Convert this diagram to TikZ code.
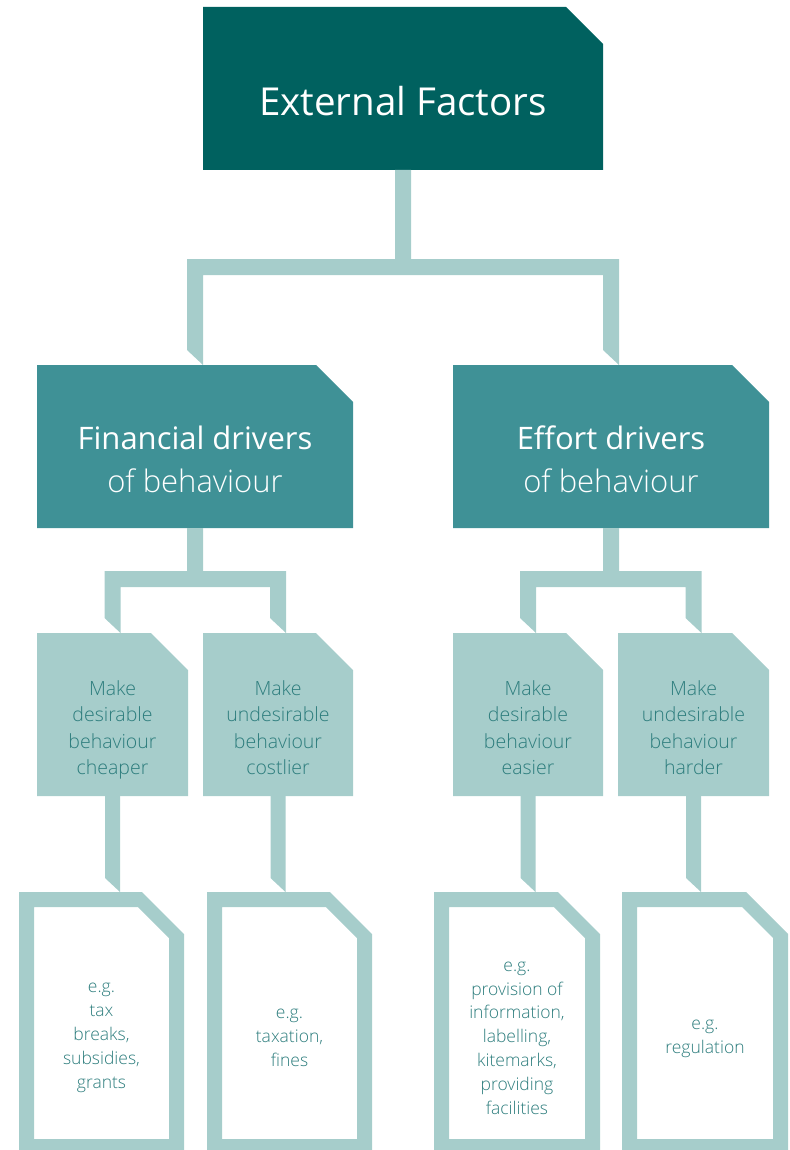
\documentclass[tikz,border=0pt]{standalone}
\usepackage{fontspec}
\setmainfont{Open Sans}
\IfFontExistsTF{Open Sans Light}{\newfontfamily\lightfont{Open Sans Light}}{%
  \IfFontExistsTF{Lato Light}{\newfontfamily\lightfont{Lato Light}}{\newfontfamily\lightfont{Open Sans}}}
\usetikzlibrary{calc}
\definecolor{darkteal}{HTML}{00615F}
\definecolor{midteal}{HTML}{3F9196}
\definecolor{lightteal}{HTML}{A6CDCB}
\definecolor{textteal}{HTML}{2D7D7D}
% chamfered box path from a node's corners: #1 node, #2 chamfer, #3 inset
\newcommand\champath[3]{($(#1.south west)+(#3,-#3)$) -- ($(#1.north west)+(#3,#3)$) -- ($(#1.north east)+(-#2-#3,#3)$) -- ($(#1.north east)+(-#3,#2+#3)$) -- ($(#1.south east)+(-#3,-#3)$) -- cycle}
% fork connector: #1 parent, #2 left child, #3 right child, #4 bar top coordinate
\newcommand\forkpath[4]{($(#1.south)+(-8,0)$) -- ($(#1.south)+(8,0)$) -- ($(#1.south |- #4)+(8,0)$) -- ($(#3.north |- #4)+(8,0)$) -- ($(#3.north)+(8,0)$) -- ($(#3.north)+(-8,-15)$) -- ($(#3.north |- #4)+(-8,16)$) -- ($(#2.north |- #4)+(8,16)$) -- ($(#2.north)+(8,0)$) -- ($(#2.north)+(-8,-15)$) -- ($(#2.north |- #4)+(-8,0)$) -- ($(#1.south |- #4)+(-8,0)$) -- cycle}
% straight connector: #1 upper node, #2 lower node
\newcommand\stempath[2]{($(#1.south)+(-7.5,0)$) -- ($(#1.south)+(7.5,0)$) -- ($(#1.south |- #2.north)+(7.5,0)$) -- ($(#1.south |- #2.north)+(-7.5,-14)$) -- cycle}
\begin{document}
\begin{tikzpicture}[x=1pt,y=-1pt,
  frame/.style={rectangle, draw=none, inner sep=0pt, outer sep=0pt},
  conn/.style={fill=lightteal},
  toptext/.style={anchor=base, text=white, font=\fontsize{38.5}{46}\selectfont},
  midtext/.style={anchor=base, text=white, align=center, font=\fontsize{31}{43}\selectfont},
  lowtext/.style={anchor=base, text=textteal, align=center, font=\lightfont\fontsize{19.5}{26.5}\selectfont},
  egtext/.style={anchor=base, text=textteal, align=center, font=\lightfont\fontsize{17.5}{23.8}\selectfont}]
\useasboundingbox (0,0) rectangle (789,1150);
% frames
\node[frame, minimum width=400pt, minimum height=163pt] (top) at (403,88.5) {};
\node[frame, minimum width=316pt, minimum height=163pt] (fin) at (195,446.5) {};
\node[frame, minimum width=316pt, minimum height=163pt] (eff) at (611,446.5) {};
\node[frame, minimum width=151pt, minimum height=163pt] (cheap) at (112.5,714.5) {};
\node[frame, minimum width=150pt, minimum height=163pt] (cost) at (278,714.5) {};
\node[frame, minimum width=150pt, minimum height=163pt] (easy) at (528,714.5) {};
\node[frame, minimum width=151pt, minimum height=163pt] (hard) at (693.5,714.5) {};
\node[frame, minimum width=165pt, minimum height=262pt] (ex1) at (101.5,1023) {};
\node[frame, minimum width=165pt, minimum height=262pt] (ex2) at (289.5,1023) {};
\node[frame, minimum width=166pt, minimum height=262pt] (ex3) at (517,1023) {};
\node[frame, minimum width=166pt, minimum height=262pt] (ex4) at (705,1023) {};
\coordinate (j1) at ($(top.south)+(0,89)$);
\coordinate (j2) at ($(fin.south)+(0,43)$);
\coordinate (j3) at ($(eff.south)+(0,43)$);
% box fills
\fill[darkteal] \champath{top}{37}{0};
\fill[midteal] \champath{fin}{37}{0};
\fill[midteal] \champath{eff}{37}{0};
\foreach \b in {cheap,cost,easy,hard} {\fill[lightteal] \champath{\b}{37}{0};}
\foreach \b in {ex1,ex2,ex3,ex4} {\fill[lightteal, even odd rule] \champath{\b}{42}{0} \champath{\b}{31}{15};}
% connectors
\fill[conn] \forkpath{top}{fin}{eff}{j1};
\fill[conn] \forkpath{fin}{cheap}{cost}{j2};
\fill[conn] \forkpath{eff}{easy}{hard}{j3};
\fill[conn] \stempath{cheap}{ex1};
\fill[conn] \stempath{cost}{ex2};
\fill[conn] \stempath{easy}{ex3};
\fill[conn] \stempath{hard}{ex4};
% texts (base anchor = baseline of the last line)
\node[toptext] (t0) at ($(top.center)+(0,27.5)$) {External Factors};
\node[midtext] (t1) at ($(fin.center)+(0,45.5)$) {Financial drivers\\{\lightfont of behaviour}};
\node[midtext] (t2) at ($(eff.center)+(0,45.5)$) {Effort drivers\\{\lightfont of behaviour}};
\node[lowtext] (t3) at ($(cheap.center)+(0,60)$) {Make\\desirable\\behaviour\\cheaper};
\node[lowtext] (t4) at ($(cost.center)+(0,60)$) {Make\\undesirable\\behaviour\\costlier};
\node[lowtext] (t5) at ($(easy.center)+(0,60)$) {Make\\desirable\\behaviour\\easier};
\node[lowtext] (t6) at ($(hard.center)+(0,60)$) {Make\\undesirable\\behaviour\\harder};
\node[egtext] (t7) at ($(ex1.center)+(0,65)$) {e.g.\\tax\\breaks,\\subsidies,\\grants};
\node[egtext] (t8) at ($(ex2.center)+(0,43)$) {e.g.\\taxation,\\fines};
\node[egtext] (t9) at ($(ex3.center)+(0,91)$) {e.g.\\provision of\\information,\\labelling,\\kitemarks,\\providing\\facilities};
\node[egtext] (t10) at ($(ex4.center)+(0,30)$) {e.g.\\regulation};
\end{tikzpicture}
\end{document}
